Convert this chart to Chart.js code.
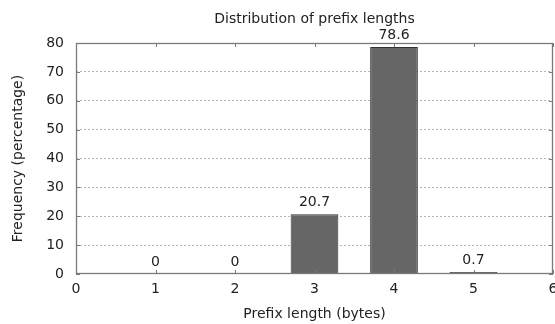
<!DOCTYPE html>
<html>
<head>
<meta charset="utf-8">
<script src="https://cdn.jsdelivr.net/npm/chart.js@4.4.0/dist/chart.umd.min.js"></script>
<style>
  html, body { margin: 0; padding: 0; background: #fff; }
  #wrap { width: 555px; height: 324px; }
</style>
</head>
<body>
<div id="wrap"><canvas id="prefixChart"></canvas></div>
<script>
const prefixLengths = [1, 2, 3, 4, 5];
const frequencies = [0, 0, 20.7, 78.6, 0.7];
const valueLabels = ["0", "0", "20.7", "78.6", "0.7"];
const yTicks = [0, 10, 20, 30, 40, 50, 60, 70, 80];

const FONT = "'DejaVu Sans', sans-serif";

// gnuplot-style frame, inward ticks and value labels
const framePlugin = {
  id: "frame",
  afterDatasetsDraw(chart) {
    const { ctx, chartArea: a, scales } = chart;
    ctx.save();
    ctx.strokeStyle = "#7a7a7a";
    ctx.lineWidth = 1.3;
    ctx.strokeRect(a.left + 0.5, a.top + 0.5, a.right - a.left - 1, a.bottom - a.top - 1);
    ctx.beginPath();
    ctx.lineWidth = 1;
    for (let v = 0; v <= 6; v++) {
      const x = Math.round(scales.x.getPixelForValue(v)) + 0.5;
      ctx.moveTo(x, a.bottom); ctx.lineTo(x, a.bottom - 4);
      ctx.moveTo(x, a.top); ctx.lineTo(x, a.top + 4);
    }
    yTicks.forEach(v => {
      const y = Math.round(scales.y.getPixelForValue(v)) + 0.5;
      ctx.moveTo(a.left, y); ctx.lineTo(a.left + 4, y);
      ctx.moveTo(a.right, y); ctx.lineTo(a.right - 4, y);
    });
    ctx.stroke();

    ctx.fillStyle = "#222";
    ctx.font = "14px " + FONT;
    ctx.textAlign = "center";
    ctx.textBaseline = "middle";
    prefixLengths.forEach((p, i) => {
      const x = scales.x.getPixelForValue(p);
      const y = scales.y.getPixelForValue(frequencies[i]);
      ctx.fillText(valueLabels[i], x, y - 12);
    });
    ctx.restore();
  }
};

const ctx = document.getElementById("prefixChart").getContext("2d");
const prefixChart = new Chart(ctx, {
  type: "bar",
  data: {
    datasets: [
      {
        data: prefixLengths.map((p, i) => ({ x: p, y: frequencies[i] })),
        backgroundColor: "#666666",
        borderColor: "#333333",
        borderWidth: 1,
        barPercentage: 0.6,
        categoryPercentage: 1,
      },
    ],
  },
  options: {
    responsive: true,
    maintainAspectRatio: false,
    animation: false,
    layout: { padding: { left: 0, right: 2, top: 0, bottom: 0 } },
    plugins: {
      legend: { display: false },
      tooltip: { enabled: false },
      title: {
        display: true,
        fullSize: false, // centre over the plot area like gnuplot
        text: "Distribution of prefix lengths",
        color: "#222",
        font: { family: FONT, size: 14, weight: "normal" },
        padding: { top: 11, bottom: 15.2 },
      },
    },
    scales: {
      x: {
        type: "linear",
        min: 0,
        max: 6,
        offset: false,
        grid: { display: false, drawTicks: false },
        border: { display: false },
        ticks: {
          stepSize: 1,
          padding: 7,
          color: "#222",
          font: { family: FONT, size: 14 },
          maxRotation: 0,
        },
        title: {
          display: true,
          text: "Prefix length (bytes)",
          color: "#222",
          font: { family: FONT, size: 14 },
          padding: { top: 6, bottom: 1 },
        },
        afterFit(scale) {
          scale.height = 50;
          scale.paddingLeft = 0;
          scale.paddingRight = 0;
        },
      },
      y: {
        min: 0,
        max: 80,
        grid: {
          drawTicks: false,
          color: (c) => (c.tick && (c.tick.value === 0 || c.tick.value === 80) ? "rgba(0,0,0,0)" : "#b4b4b4"),
          lineWidth: 1,
        },
        border: { display: false, dash: [2, 2] },
        ticks: {
          stepSize: 10,
          padding: 12,
          color: "#222",
          font: { family: FONT, size: 14 },
        },
        title: {
          display: true,
          text: "Frequency (percentage)",
          color: "#222",
          font: { family: FONT, size: 14 },
          padding: { top: 10, bottom: 4 },
        },
        afterFit(scale) {
          scale.width = 76;
          scale.paddingTop = 0;
          scale.paddingBottom = 0;
        },
      },
    },
  },
  plugins: [framePlugin],
});
</script>
</body>
</html>
